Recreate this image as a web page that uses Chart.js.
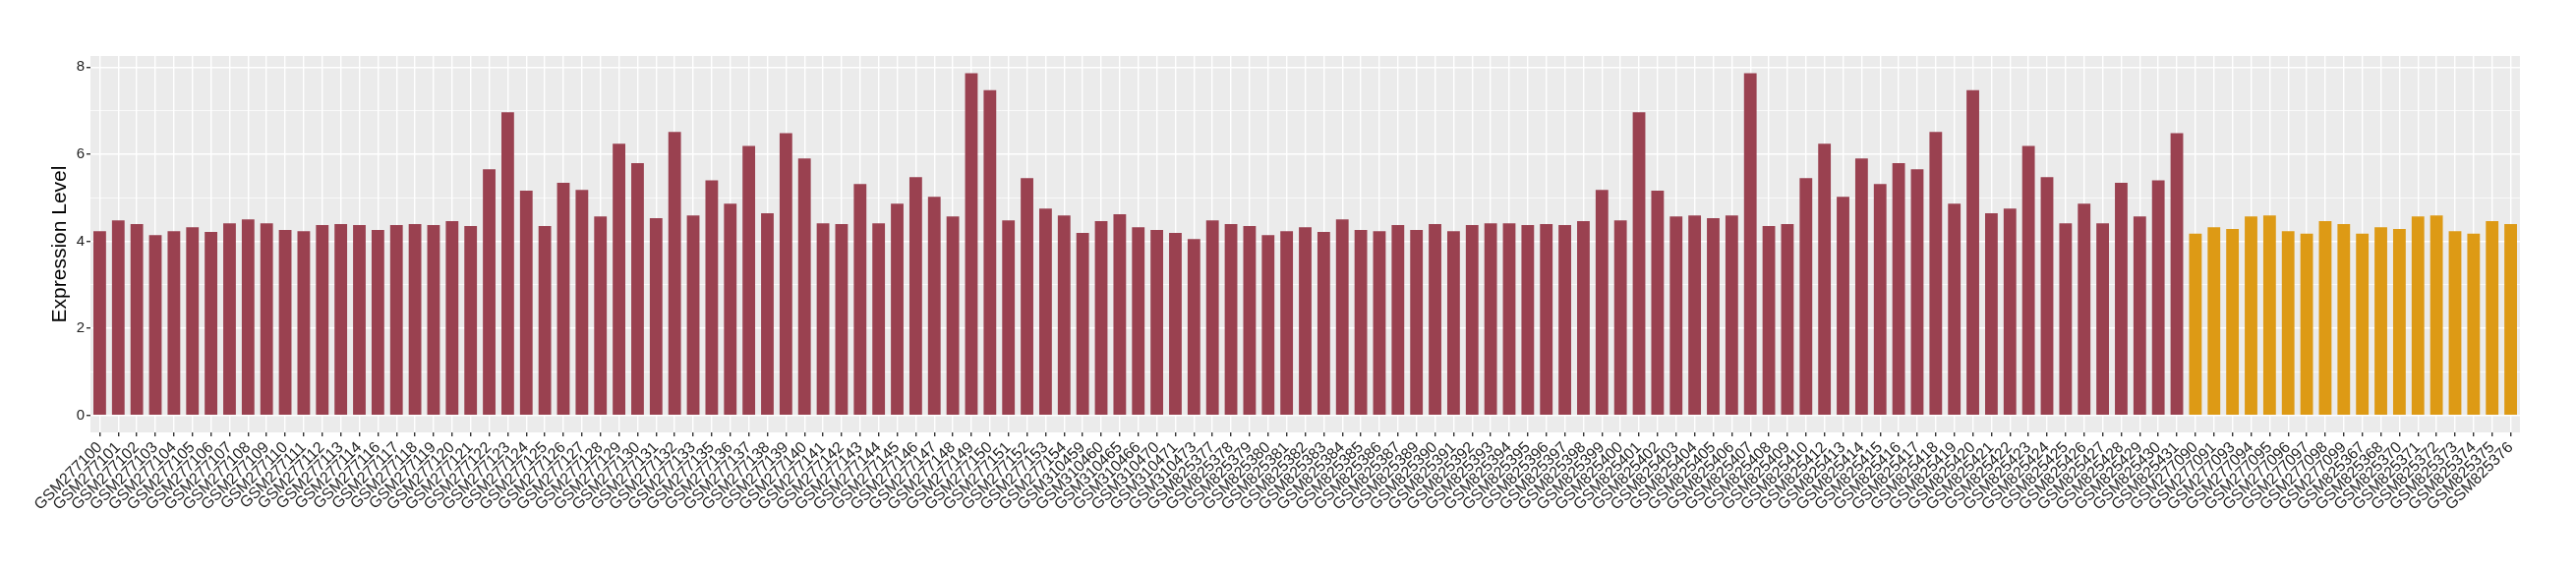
<!DOCTYPE html>
<html lang="en">
<head>
  <meta charset="UTF-8" />
  <title>Expression Level</title>
  <script src="https://cdn.jsdelivr.net/npm/chart.js"></script>
  <style>
    body { margin: 0; background: #fff; }
    canvas { display: block; }
  </style>
</head>
<body>
<canvas id="exprChart" width="2620" height="580"></canvas>
<script>
// first group (dark red bars)
const groupASamples = [
  "GSM277100","GSM277101","GSM277102","GSM277103","GSM277104","GSM277105","GSM277106","GSM277107",
  "GSM277108","GSM277109","GSM277110","GSM277111","GSM277112","GSM277113","GSM277114","GSM277116",
  "GSM277117","GSM277118","GSM277119","GSM277120","GSM277121","GSM277122","GSM277123","GSM277124",
  "GSM277125","GSM277126","GSM277127","GSM277128","GSM277129","GSM277130","GSM277131","GSM277132",
  "GSM277133","GSM277135","GSM277136","GSM277137","GSM277138","GSM277139","GSM277140","GSM277141",
  "GSM277142","GSM277143","GSM277144","GSM277145","GSM277146","GSM277147","GSM277148","GSM277149",
  "GSM277150","GSM277151","GSM277152","GSM277153","GSM277154","GSM310459","GSM310460","GSM310465",
  "GSM310466","GSM310470","GSM310471","GSM310473","GSM825377","GSM825378","GSM825379","GSM825380",
  "GSM825381","GSM825382","GSM825383","GSM825384","GSM825385","GSM825386","GSM825387","GSM825389",
  "GSM825390","GSM825391","GSM825392","GSM825393","GSM825394","GSM825395","GSM825396","GSM825397",
  "GSM825398","GSM825399","GSM825400","GSM825401","GSM825402","GSM825403","GSM825404","GSM825405",
  "GSM825406","GSM825407","GSM825408","GSM825409","GSM825410","GSM825412","GSM825413","GSM825414",
  "GSM825415","GSM825416","GSM825417","GSM825418","GSM825419","GSM825420","GSM825421","GSM825422",
  "GSM825423","GSM825424","GSM825425","GSM825426","GSM825427","GSM825428","GSM825429","GSM825430",
  "GSM825431"
];
const groupAValues = [
  4.23,4.48,4.39,4.14,4.23,4.32,4.21,4.41,
  4.50,4.41,4.26,4.23,4.37,4.39,4.37,4.26,
  4.37,4.39,4.37,4.46,4.35,5.65,6.96,5.16,
  4.35,5.34,5.18,4.57,6.24,5.79,4.53,6.51,
  4.59,5.40,4.86,6.19,4.64,6.48,5.90,4.41,
  4.39,5.31,4.41,4.86,5.47,5.02,4.57,7.86,
  7.47,4.48,5.45,4.75,4.59,4.19,4.46,4.62,
  4.32,4.26,4.19,4.05,4.48,4.39,4.35,4.14,
  4.23,4.32,4.21,4.50,4.26,4.23,4.37,4.26,
  4.39,4.23,4.37,4.41,4.41,4.37,4.39,4.37,
  4.46,5.18,4.48,6.96,5.16,4.57,4.59,4.53,
  4.59,7.86,4.35,4.39,5.45,6.24,5.02,5.90,
  5.31,5.79,5.65,6.51,4.86,7.47,4.64,4.75,
  6.19,5.47,4.41,4.86,4.41,5.34,4.57,5.40,
  6.48
];

// second group (orange bars)
const groupBSamples = [
  "GSM277090","GSM277091","GSM277093","GSM277094","GSM277095","GSM277096","GSM277097","GSM277098",
  "GSM277099","GSM825367","GSM825368","GSM825370","GSM825371","GSM825372","GSM825373","GSM825374",
  "GSM825375","GSM825376"
];
const groupBValues = [
  4.17,4.32,4.28,4.57,4.59,4.23,4.17,4.46,
  4.39,4.17,4.32,4.28,4.57,4.59,4.23,4.17,
  4.46,4.39
];

const yTicks = [0, 2, 4, 6, 8];
const colorA = "#9a4150";
const colorB = "#dd9a15";

const labels = groupASamples.concat(groupBSamples);
const values = groupAValues.concat(groupBValues);
const colors = groupASamples.map(() => colorA).concat(groupBSamples.map(() => colorB));

// grey panel behind the bars
const panelBg = {
  id: "panelBg",
  beforeDraw(chart) {
    const a = chart.chartArea, ctx = chart.ctx;
    ctx.save();
    ctx.fillStyle = "#ebebeb";
    ctx.fillRect(a.left, a.top, a.right - a.left, a.bottom - a.top);
    ctx.restore();
  }
};

const maxVal = Math.max(...values);
const pad = maxVal * 0.05;

new Chart(document.getElementById("exprChart"), {
  type: "bar",
  data: {
    labels: labels,
    datasets: [{
      data: values,
      backgroundColor: colors,
      borderWidth: 0,
      categoryPercentage: 1,
      barPercentage: 0.68
    }]
  },
  options: {
    responsive: false,
    animation: false,
    layout: { padding: { top: 57, right: 57, bottom: 0, left: 0 } },
    plugins: { legend: { display: false }, tooltip: { enabled: false } },
    scales: {
      x: {
        border: { display: false },
        grid: {
          offset: false,
          color: "#ffffff",
          lineWidth: 1.4,
          tickLength: 4,
          tickColor: "#333333"
        },
        ticks: {
          autoSkip: false,
          maxRotation: 45,
          minRotation: 45,
          padding: 2,
          color: "#222222",
          font: { family: "Liberation Sans", size: 16 }
        },
        afterFit: s => { s.height = 140; }
      },
      y: {
        min: -pad,
        max: maxVal + pad,
        border: { display: false },
        afterBuildTicks: axis => {
          const t = [];
          for (let i = 0; i < yTicks.length; i++) {
            t.push({ value: yTicks[i] });
            if (i < yTicks.length - 1) t.push({ value: (yTicks[i] + yTicks[i + 1]) / 2 });
          }
          axis.ticks = t;
        },
        grid: {
          color: "#ffffff",
          lineWidth: c => yTicks.includes(c.tick.value) ? 1.4 : 0.7,
          tickLength: 4,
          tickColor: c => yTicks.includes(c.tick.value) ? "#333333" : "rgba(0,0,0,0)"
        },
        ticks: {
          padding: 2,
          color: "#222222",
          font: { family: "Liberation Sans", size: 15 },
          callback: v => yTicks.includes(v) ? v : ""
        },
        title: {
          display: true,
          text: "Expression Level",
          color: "#000000",
          font: { family: "Liberation Sans", size: 21 },
          padding: { top: 49, bottom: 0 }
        },
        afterFit: s => { s.width = 92; }
      }
    }
  },
  plugins: [panelBg]
});
</script>
</body>
</html>
